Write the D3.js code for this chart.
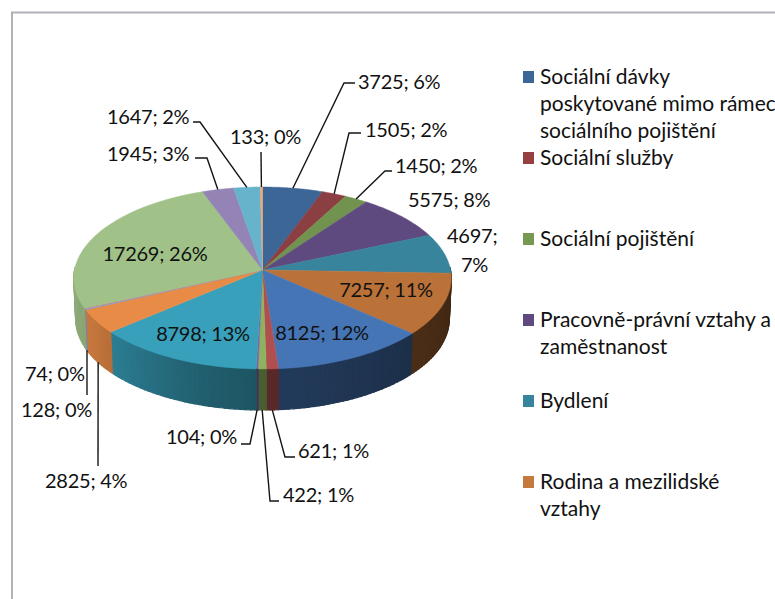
<!DOCTYPE html>
<html>
<head>
<meta charset="utf-8">
<script src="https://cdn.jsdelivr.net/npm/d3@7"></script>
<style>
    html, body { margin: 0; padding: 0; background: #fff; overflow: hidden; }
    text { font-family: Lato, "Open Sans", sans-serif; fill: #111; }
</style>
</head>
<body>
<div id="chart"></div>
<script>
// slices clockwise from 12 o'clock
const sliceValues = [3725, 1505, 1450, 5575, 4697, 7257, 8125, 621, 422, 104, 8798, 2825, 128, 74, 17269, 1945, 1647, 133];
const sliceColors = ["#3b6696", "#8b3f42", "#71934f", "#5f4a80", "#38849c", "#bb7239",
    "#4575b5", "#b04f50", "#8db35f", "#7d62a5", "#38a0bb", "#e78b47",
    "#7f9fcf", "#d08583", "#a0c288", "#9484b5", "#67b3cc", "#f0a878"];

const legendNames = [
    ["Sociální dávky", "poskytované mimo rámec", "sociálního pojištění"],
    ["Sociální služby"],
    ["Sociální pojištění"],
    ["Pracovně-právní vztahy a", "zaměstnanost"],
    ["Bydlení"],
    ["Rodina a mezilidské", "vztahy"]
];
const legendColors = ["#3b6696", "#953f42", "#76984f", "#5f4a80", "#38849c", "#c47a3c"];
const legendTops = [77, 158, 239, 320, 401, 482];

// where each data label sits, index matches sliceValues. elbow = leader line bend points
const labelLayout = [
    { x: 358, y: 89, elbow: [[344, 83], [355, 83]] },
    { x: 365, y: 137, elbow: [[349, 133], [361, 133]] },
    { x: 395, y: 173, elbow: [[385, 171], [392, 171]] },
    { x: 408, y: 207 },
    { x: 447, y: 243, wrap: true },
    { x: 386, y: 297, anchor: "middle" },
    { x: 322, y: 340, anchor: "middle" },
    { x: 298, y: 458, z: 1, elbow: [[285, 457], [295, 457]] },
    { x: 283, y: 502, z: 1, elbow: [[270, 501], [279, 501]] },
    { x: 166, y: 444, z: 1, elbow: [[250, 444], [241, 444]] },
    { x: 203, y: 341, anchor: "middle" },
    { x: 45, y: 488, z: 1, elbow: [[98, 466]] },
    { x: 21, y: 417, z: 1, elbow: [[87, 395]] },
    { x: 25, y: 381 },
    { x: 155, y: 261, anchor: "middle" },
    { x: 107, y: 161, elbow: [[207, 158], [195, 158]] },
    { x: 107, y: 124, elbow: [[200, 122], [193, 122]] },
    { x: 230, y: 144, elbow: [[261, 152]] }
];

const width = 775, height = 599;
const cx = 262.5, cy = 270;
const rx = 188, ry = 90.3;
const depth = 41;
const persp = 0.088;   // top of the disc is further away than the front
const labelSize = 20;
const legendSize = 21;

const svg = d3.select("#chart").append("svg")
    .attr("width", width)
    .attr("height", height);

// chart area border, only top and left are in the picture
svg.append("path")
    .attr("d", d3.line()([[12, height], [12, 12.5], [width, 12.5]]))
    .attr("fill", "none")
    .attr("stroke", "#b0b2b8")
    .attr("stroke-width", 2);

const xScale = d3.scaleLinear().domain([-1, 1]).range([cx - rx, cx + rx]);
const yScale = d3.scaleLinear().domain([-1, 1]).range([cy - ry, cy + ry]);

// angle and height (0 top face, 1 bottom face) to screen position
function project(angle, z) {
    const u = Math.sin(angle);
    const v = -Math.cos(angle);
    const w = 1 - persp * v;
    return [xScale((u / w) * (1 - 0.01 * z)), yScale(v / w) + z * depth];
}

const pie = d3.pie().value(d => d).sort(null);
const arcs = pie(sliceValues);
const total = d3.sum(sliceValues);
const line = d3.line();
const deg = Math.PI / 180;

// how dark the wall gets going round the front
const shade = d3.scaleLinear()
    .domain([90, 130, 175, 195, 240, 270].map(d => d * deg))
    .range([0.33, 0.40, 0.50, 0.58, 0.85, 0.88]);

// side wall, cut in small steps so that the shade can change along it
const wall = svg.append("g").attr("class", "wall");
arcs.forEach((d, i) => {
    const start = Math.max(d.startAngle, 88 * deg);
    const end = Math.min(d.endAngle, 272 * deg);
    if (end <= start) return;
    const steps = Math.max(1, Math.ceil((end - start) / (1.5 * deg)));
    d3.range(steps).forEach(s => {
        const a0 = start + (end - start) * s / steps;
        const a1 = start + (end - start) * (s + 1) / steps;
        const col = d3.rgb(sliceColors[i]);
        const f = shade((a0 + a1) / 2);
        const fill = d3.rgb(col.r * f, col.g * f, col.b * f).formatHex();
        wall.append("path")
            .attr("d", line([project(a0, 0), project(a1, 0), project(a1, 1), project(a0, 1)]) + "Z")
            .attr("fill", fill)
            .attr("stroke", fill)
            .attr("stroke-width", 1.2);
    });
});

// top face
svg.append("g").attr("class", "top")
    .selectAll("path")
    .data(arcs)
    .join("path")
    .attr("d", d => {
        const pts = d3.range(0, 31).map(s => project(d.startAngle + (d.endAngle - d.startAngle) * s / 30, 0));
        return line([[xScale(0), yScale(0)], ...pts]) + "Z";
    })
    .attr("fill", (d, i) => sliceColors[i])
    .attr("stroke", (d, i) => sliceColors[i])
    .attr("stroke-width", 0.5);

// leader lines
svg.append("g").attr("class", "leaders")
    .selectAll("path")
    .data(arcs.filter((d, i) => labelLayout[i].elbow))
    .join("path")
    .attr("d", d => {
        const lay = labelLayout[d.index];
        const start = project((d.startAngle + d.endAngle) / 2, lay.z || 0);
        return line([start, ...lay.elbow]);
    })
    .attr("fill", "none")
    .attr("stroke", "#141414")
    .attr("stroke-width", 1.4);

// data labels
const labels = svg.append("g").attr("class", "labels")
    .selectAll("text")
    .data(arcs)
    .join("text")
    .attr("x", (d, i) => labelLayout[i].x)
    .attr("y", (d, i) => labelLayout[i].y)
    .attr("text-anchor", (d, i) => labelLayout[i].anchor || "start")
    .style("font-size", labelSize + "px")
    .style("letter-spacing", "-0.25px");

labels.each(function (d, i) {
    const pct = Math.round(d.value / total * 100) + "%";
    const t = d3.select(this);
    if (labelLayout[i].wrap) {
        t.append("tspan").text(d.value + ";");
        t.append("tspan").attr("x", labelLayout[i].x + 14).attr("dy", 29).text(pct);
    } else {
        t.text(d.value + "; " + pct);
    }
});

// legend, text runs off the right edge like in the picture
const legend = svg.append("g").attr("class", "legend");
const rowHeight = 27;
legendNames.forEach((rows, i) => {
    legend.append("rect")
        .attr("x", 523)
        .attr("y", legendTops[i] - 6)
        .attr("width", 11)
        .attr("height", 12)
        .attr("fill", legendColors[i]);
    rows.forEach((row, r) => {
        legend.append("text")
            .attr("x", 540)
            .attr("y", legendTops[i] + r * rowHeight + 7)
            .style("font-size", legendSize + "px")
            .text(row);
    });
});
</script>
</body>
</html>
